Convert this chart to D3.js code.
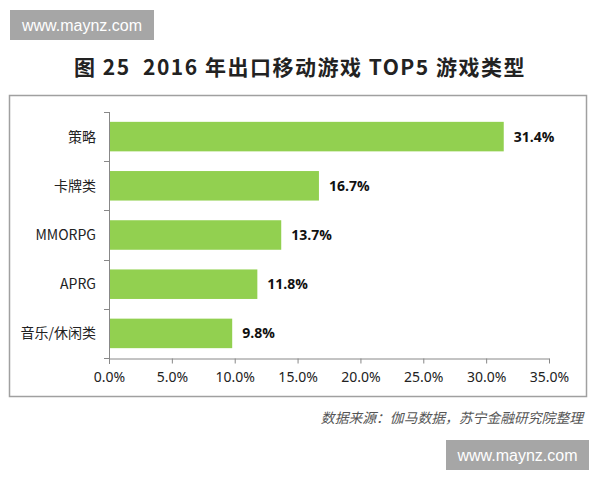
<!DOCTYPE html>
<html><head><meta charset="utf-8">
<script src="https://cdn.jsdelivr.net/npm/d3@7"></script>
<style>body{margin:0;background:#fff}svg{display:block}</style>
</head><body>
<svg id="c" width="600" height="480"></svg>
<script>
const categories = ["策略", "卡牌类", "MMORPG", "APRG", "音乐/休闲类"];
const values = [31.4, 16.7, 13.7, 11.8, 9.8];
const xTicks = [0, 5, 10, 15, 20, 25, 30, 35];
const title = "图 25  2016 年出口移动游戏 TOP5 游戏类型";
const source = "数据来源：伽马数据，苏宁金融研究院整理";
const watermark = "www.maynz.com";

const svg = d3.select("#c");
const cjk = "'Microsoft YaHei','Noto Sans CJK SC',sans-serif";

// watermarks
svg.append("rect").attr("x",10).attr("y",10).attr("width",144).attr("height",30).attr("fill","#a6a6a6");
svg.append("text").attr("x",82).attr("y",31).attr("text-anchor","middle").attr("fill","#fff")
  .style("font-family","Arial,'Liberation Sans',sans-serif").style("font-size","16px").text(watermark);
svg.append("rect").attr("x",446).attr("y",440).attr("width",143).attr("height",30).attr("fill","#a6a6a6");
svg.append("text").attr("x",517.5).attr("y",461).attr("text-anchor","middle").attr("fill","#fff")
  .style("font-family","Arial,'Liberation Sans',sans-serif").style("font-size","16px").text(watermark);

// title
svg.append("text").attr("x",300).attr("y",75).attr("text-anchor","middle").attr("fill","#222")
  .style("white-space","pre").style("letter-spacing","1.5px")
  .style("font-family",cjk).style("font-size","21px").style("font-weight","bold").text(title);

// frame
svg.append("rect").attr("x",9.5).attr("y",95.5).attr("width",577).attr("height",301)
  .attr("fill","none").attr("stroke","#a0a0a0").attr("stroke-width",1.5);

const x = d3.scaleLinear().domain([0,35]).range([109,549]);
const y = d3.scaleBand().domain(categories).range([112,358]).paddingInner(0.4).paddingOuter(0.2);

// bars
svg.append("g").selectAll("rect").data(values).join("rect")
  .attr("x", x(0)).attr("y",(d,i)=>y(categories[i]))
  .attr("width", d=>x(d)-x(0)).attr("height", y.bandwidth())
  .attr("fill","#92d050");

// value labels
svg.append("g").selectAll("text").data(values).join("text")
  .attr("x", d=>x(d)+10).attr("y",(d,i)=>y(categories[i])+y.bandwidth()/2+5)
  .attr("fill","#111").style("font-family","'Open Sans','DejaVu Sans',sans-serif")
  .style("font-size","14px").style("font-weight","bold").text(d=>d.toFixed(1)+"%");

// x axis
const xAxis = d3.axisBottom(x).tickValues(xTicks).tickFormat(d=>d.toFixed(1)+"%").tickSize(5).tickSizeOuter(0);
const gx = svg.append("g").attr("transform","translate(0,358.5)").call(xAxis);
gx.select(".domain").attr("stroke","#888");
gx.selectAll(".tick line").attr("stroke","#888");
gx.selectAll(".tick text").attr("fill","#222").attr("dy","1.1em")
  .style("font-family","'Noto Sans',sans-serif").style("font-size","14px");

// y axis line + separator ticks
svg.append("line").attr("x1",109.5).attr("x2",109.5).attr("y1",112).attr("y2",364).attr("stroke","#888");
const seps = d3.range(categories.length+1).map(i=>112+i*(246/categories.length));
svg.append("g").selectAll("line").data(seps).join("line")
  .attr("x1",104).attr("x2",109.5).attr("y1",d=>Math.round(d)+0.5).attr("y2",d=>Math.round(d)+0.5).attr("stroke","#888");

// category labels
svg.append("g").selectAll("text").data(categories).join("text")
  .attr("x",96).attr("y",d=>y(d)+y.bandwidth()/2+5).attr("text-anchor","end").attr("fill","#222")
  .style("font-family",cjk).style("font-size","14px").text(d=>d);

// source
svg.append("text").attr("x",583).attr("y",423).attr("text-anchor","end").attr("fill","#555")
  .style("font-family",cjk).style("font-size","13.8px").style("font-style","italic").text(source);
</script>
</body></html>
